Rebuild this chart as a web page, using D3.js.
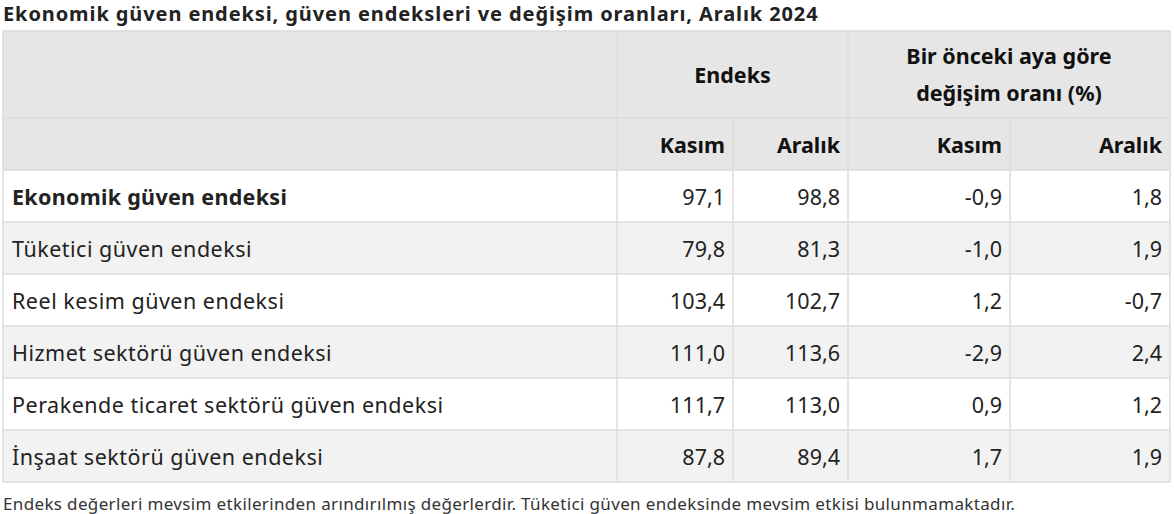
<!DOCTYPE html><html><head><meta charset="utf-8"><script src="https://cdn.jsdelivr.net/npm/d3@7"></script>
<style>body{margin:0;background:#fff}text{font-family:"Noto Sans","Open Sans",sans-serif}</style></head><body><svg id="c" width="1174" height="514"></svg>
<script>
const title="Ekonomik güven endeksi, güven endeksleri ve değişim oranları, Aralık 2024";
const groupHeaders=["Endeks","Bir önceki aya göre|değişim oranı (%)"];
const subHeaders=["Kasım","Aralık","Kasım","Aralık"];
const rowLabels=["Ekonomik güven endeksi","Tüketici güven endeksi","Reel kesim güven endeksi","Hizmet sektörü güven endeksi","Perakende ticaret sektörü güven endeksi","İnşaat sektörü güven endeksi"];
const endeksKasim=["97,1","79,8","103,4","111,0","111,7","87,8"];
const endeksAralik=["98,8","81,3","102,7","113,6","113,0","89,4"];
const degisimKasim=["-0,9","-1,0","1,2","-2,9","0,9","1,7"];
const degisimAralik=["1,8","1,9","-0,7","2,4","1,2","1,9"];
const note="Endeks değerleri mevsim etkilerinden arındırılmış değerlerdir. Tüketici güven endeksinde mevsim etkisi bulunmamaktadır.";

const svg=d3.select("#c");
const colX=[3,617,733,848,1010,1170];
const y0=31,h1=87,h2=52,rh=52;
svg.append("text").attr("x",3).attr("y",21).attr("font-size",20).attr("font-weight",700).attr("letter-spacing",0.9).attr("fill","#222").text(title);
const border="#dcdcdc";
svg.append("rect").attr("x",colX[0]).attr("y",y0).attr("width",colX[5]-colX[0]).attr("height",h1+h2).attr("fill","#e6e6e6");
const rowsY=d3.range(rowLabels.length).map(i=>y0+h1+h2+i*rh);
svg.selectAll("rect.r").data(rowLabels).join("rect").attr("x",colX[0]).attr("y",(d,i)=>rowsY[i]).attr("width",colX[5]-colX[0]).attr("height",rh).attr("fill",(d,i)=>i%2?"#f2f2f2":"#fff");
[[1,3],[3,5]].forEach(([a,b],gi)=>{
  const lines=groupHeaders[gi].split("|");
  const cx=(colX[a]+colX[b])/2, cy=y0+h1/2;
  lines.forEach((l,li)=>svg.append("text").attr("x",cx).attr("y",cy+(li-(lines.length-1)/2)*37+8).attr("text-anchor","middle").attr("font-size",21.5).attr("font-weight",700).attr("fill","#111").text(l));
});
subHeaders.forEach((s,i)=>svg.append("text").attr("x",colX[i+2]-8).attr("y",y0+h1+h2/2+9).attr("text-anchor","end").attr("font-size",21.5).attr("font-weight",700).attr("fill","#111").text(s));
const cols=[endeksKasim,endeksAralik,degisimKasim,degisimAralik];
rowLabels.forEach((lab,i)=>{
  const cy=rowsY[i]+rh/2+9;
  svg.append("text").attr("x",colX[0]+9).attr("y",cy).attr("font-size",21.5).attr("letter-spacing",i===0?0.3:0.5).attr("font-weight",i===0?700:400).attr("fill","#222").text(lab);
  cols.forEach((c,j)=>svg.append("text").attr("x",colX[j+2]-8).attr("y",cy).attr("text-anchor","end").attr("font-size",21.5).attr("fill","#222").text(c[i]));
});
const g=svg.append("g").attr("stroke",border).attr("stroke-width",1.5).attr("fill","none");
const yEnd=rowsY[rowsY.length-1]+rh;
g.append("rect").attr("x",colX[0]).attr("y",y0).attr("width",colX[5]-colX[0]).attr("height",yEnd-y0);
[y0+h1,...rowsY].forEach(y=>g.append("line").attr("x1",colX[0]).attr("x2",colX[5]).attr("y1",y).attr("y2",y));
[1,3].forEach(k=>g.append("line").attr("x1",colX[k]).attr("x2",colX[k]).attr("y1",y0).attr("y2",yEnd));
[2,4].forEach(k=>g.append("line").attr("x1",colX[k]).attr("x2",colX[k]).attr("y1",y0+h1).attr("y2",yEnd));
svg.append("text").attr("x",3).attr("y",510).attr("font-size",17).attr("letter-spacing",0.35).attr("fill","#333").text(note);
</script></body></html>
